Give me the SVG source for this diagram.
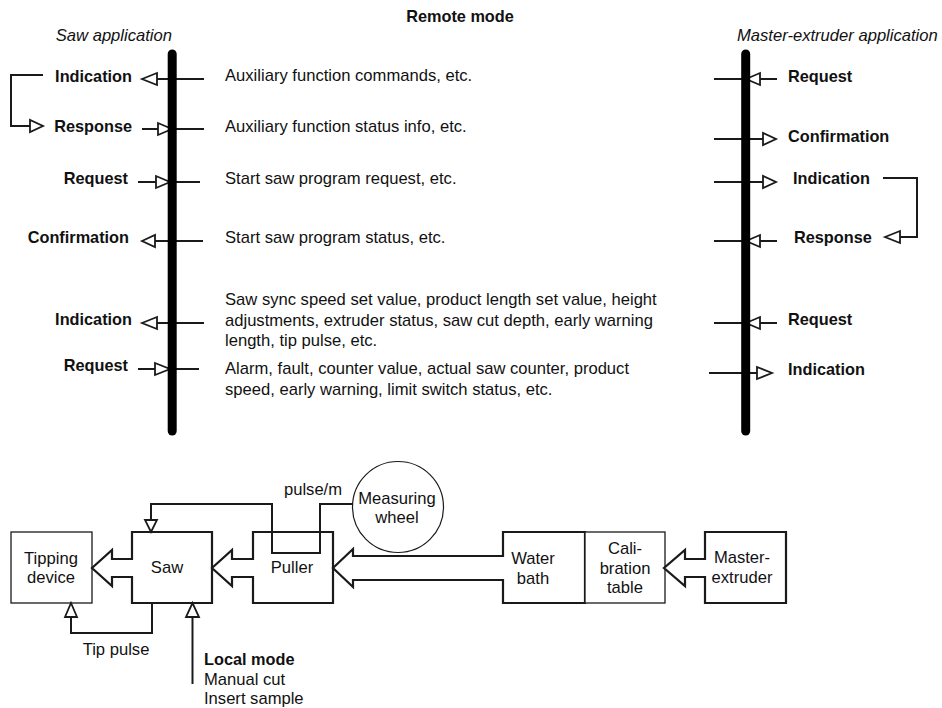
<svg xmlns="http://www.w3.org/2000/svg" width="942" height="708" viewBox="0 0 942 708">
<style>
text{font-family:"Liberation Sans",Arial,sans-serif;font-size:16.6px;fill:#111}
.b{font-weight:bold;font-size:16.3px}
.i{font-style:italic}
.m{text-anchor:middle}
.e{text-anchor:end}
.ln{stroke:#1a1a1a;stroke-width:2;fill:none}
.tri{fill:#fff;stroke:#1a1a1a;stroke-width:1.8;stroke-linejoin:miter}
.box{fill:#fff;stroke:#1a1a1a;stroke-width:2.2;stroke-linejoin:miter}
.thin{fill:#fff;stroke:#1a1a1a;stroke-width:1.3}
.bar{stroke:#000;stroke-width:9;stroke-linecap:round}
</style>

<g id="title"><text class="b m" x="460" y="22">Remote mode</text></g>

<!-- bottom process nodes -->
<g id="tipping-device">
<rect class="thin" x="11" y="532" width="81" height="71"/>
<text class="m" x="51" y="564">Tipping</text><text class="m" x="51" y="583">device</text>
</g>
<g id="saw">
<path class="box" d="M132,532 H212 V603 H132 V577 H112 V586 L92,568 L112,550 V559 H132 Z"/>
<text class="m" x="167" y="573">Saw</text>
</g>
<g id="puller">
<path class="box" d="M253,532 H333 V603 H253 V577 H232 V586 L212,568 L232,550 V559 H253 Z"/>
<text class="m" x="292" y="573">Puller</text>
</g>
<g id="water-bath">
<path class="box" d="M503,532 H585 V603 H503 V580 H353 V587 L333,568 L353,549 V556 H503 Z"/>
<text class="m" x="533" y="564">Water</text><text class="m" x="533" y="584">bath</text>
</g>
<g id="calibration-table">
<rect class="thin" x="585" y="532" width="80" height="71"/>
<text class="m" x="625" y="554">Cali-</text><text class="m" x="625" y="574">bration</text><text class="m" x="625" y="593">table</text>
</g>
<g id="master-extruder">
<path class="box" d="M705,532 H786 V603 H705 V577 H685 V586 L664,568 L685,550 V559 H705 Z"/>
<text class="m" x="742" y="563">Master-</text><text class="m" x="742" y="583">extruder</text>
</g>
<g id="measuring-wheel">
<circle cx="398" cy="507" r="45.5" fill="#fff" stroke="#1a1a1a" stroke-width="1.2"/>
<text class="m" x="397" y="504">Measuring</text><text class="m" x="397" y="523">wheel</text>
</g>

<g id="connectors">
<!-- left lifeline messages -->
<line class="ln" x1="157" y1="79" x2="204" y2="79"/><polygon class="tri" points="142,79 157,73 157,85"/>
<line class="ln" x1="142" y1="129" x2="204" y2="129"/><polygon class="tri" points="158,123 158,135 172,129"/>
<line class="ln" x1="138" y1="182" x2="200" y2="182"/><polygon class="tri" points="156,176 156,188 170,182"/>
<line class="ln" x1="155" y1="241" x2="203" y2="241"/><polygon class="tri" points="142,241 155,235 155,247"/>
<line class="ln" x1="157" y1="323" x2="204" y2="323"/><polygon class="tri" points="142,323 157,317 157,329"/>
<line class="ln" x1="138" y1="369" x2="199" y2="369"/><polygon class="tri" points="155,363 155,375 170,369"/>
<polyline class="ln" points="43,75 11,75 11,126 30,126"/><polygon class="tri" points="30,120 30,132 43,126"/>
<!-- right lifeline messages -->
<line class="ln" x1="714" y1="79" x2="777" y2="79"/><polygon class="tri" points="746,79 760,73 760,85"/>
<line class="ln" x1="714" y1="139" x2="763" y2="139"/><polygon class="tri" points="763,133 763,145 776,139"/>
<line class="ln" x1="714" y1="182" x2="763" y2="182"/><polygon class="tri" points="763,176 763,188 776,182"/>
<line class="ln" x1="714" y1="241" x2="777" y2="241"/><polygon class="tri" points="746,241 760,235 760,247"/>
<line class="ln" x1="714" y1="323" x2="777" y2="323"/><polygon class="tri" points="746,323 760,317 760,329"/>
<line class="ln" x1="709" y1="373" x2="757" y2="373"/><polygon class="tri" points="757,367 757,379 772,373"/>
<polyline class="ln" points="883,178 917,178 917,237 900,237"/><polygon class="tri" points="885,237 900,231 900,243"/>
<!-- bottom -->
<polyline class="ln" points="353,504 320,504 320,553 272,553 272,504 151,504 151,520"/><polygon class="tri" points="145,520 157,520 151,532"/>
<polyline class="ln" points="152,603 152,633 71,633 71,617"/><polygon class="tri" points="65,617 77,617 71,603"/>
<line class="ln" x1="192.5" y1="684" x2="192.5" y2="617"/><polygon class="tri" points="186,617 199,617 192.5,603"/>
</g>

<g id="saw-application">
<text class="i e" x="172" y="41">Saw application</text>
<line class="bar" x1="172.2" y1="54" x2="172.2" y2="431"/>
<text class="b e" x="132" y="82">Indication</text>
<text class="b e" x="132" y="132">Response</text>
<text class="b e" x="128" y="184">Request</text>
<text class="b e" x="129" y="243">Confirmation</text>
<text class="b e" x="132" y="325">Indication</text>
<text class="b e" x="128" y="371">Request</text>
</g>

<g id="messages">
<text x="225" y="81">Auxiliary function commands, etc.</text>
<text x="225" y="132">Auxiliary function status info, etc.</text>
<text x="225" y="184">Start saw program request, etc.</text>
<text x="225" y="243">Start saw program status, etc.</text>
<text x="225" y="305">Saw sync speed set value, product length set value, height</text>
<text x="225" y="326">adjustments, extruder status, saw cut depth, early warning</text>
<text x="225" y="346">length, tip pulse, etc.</text>
<text x="225" y="374">Alarm, fault, counter value, actual saw counter, product</text>
<text x="225" y="395">speed, early warning, limit switch status, etc.</text>
</g>

<g id="master-extruder-application">
<text class="i" x="737" y="41">Master-extruder application</text>
<line class="bar" x1="745.7" y1="54" x2="745.7" y2="431"/>
<text class="b" x="788" y="82">Request</text>
<text class="b" x="788" y="142">Confirmation</text>
<text class="b" x="793" y="184">Indication</text>
<text class="b" x="794" y="243">Response</text>
<text class="b" x="788" y="325">Request</text>
<text class="b" x="788" y="375">Indication</text>
</g>

<g id="labels">
<text class="m" x="313" y="495">pulse/m</text>
<text class="m" x="116" y="655">Tip pulse</text>
<text class="b" x="204" y="665">Local mode</text>
<text x="204" y="685">Manual cut</text>
<text x="204" y="704">Insert sample</text>
</g>
</svg>
